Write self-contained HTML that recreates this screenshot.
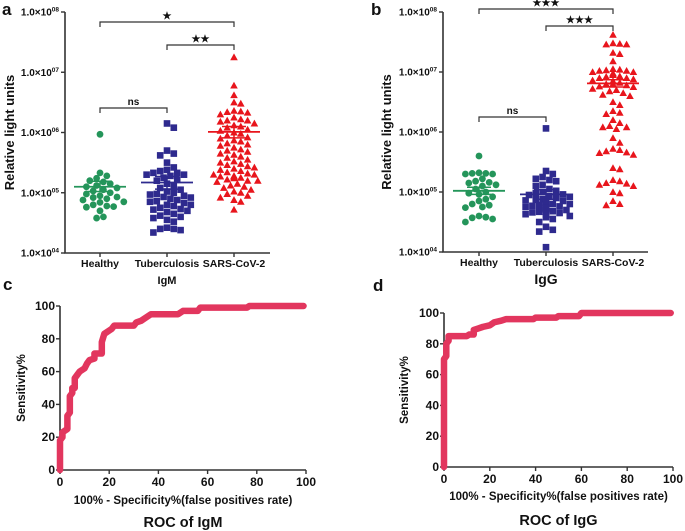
<!DOCTYPE html>
<html><head><meta charset="utf-8"><style>
html,body{margin:0;padding:0;background:#fff;}
svg{display:block;font-family:"Liberation Sans",Arial,sans-serif;}
text{font-weight:bold;fill:#111;}
</style></head><body>
<svg id="fig" width="685" height="531" viewBox="0 0 685 531"></svg>
<script>
// ---------- data ----------
const categories = ["Healthy","Tuberculosis","SARS-CoV-2"];
const yTickExps = ["04","05","06","07","08"];
// panel a (IgM) log10 RLU
const igmHealthy = [5.97,5.33,5.28,5.24,5.20,5.18,5.15,5.12,5.10,5.08,5.05,5.03,5.00,4.98,4.95,4.93,4.92,4.90,4.88,4.85,4.84,4.80,4.78,4.77,4.76,4.70,4.60,4.58];
const igmTB = [6.15,6.08,5.70,5.65,5.62,5.50,5.42,5.38,5.36,5.33,5.33,5.30,5.30,5.28,5.25,5.22,5.20,5.15,5.12,5.08,5.05,5.02,5.00,4.98,4.97,4.95,4.93,4.92,4.90,4.88,4.86,4.85,4.83,4.80,4.80,4.78,4.75,4.73,4.72,4.70,4.68,4.65,4.62,4.60,4.58,4.55,4.52,4.42,4.40,4.40,4.38,4.34];
const igmSars = [7.25,6.78,6.62,6.5,6.48,6.36,6.35,6.34,6.33,6.3,6.25,6.22,6.2,6.2,6.18,6.15,6.12,6.1,6.08,6.05,6.03,6.0,5.98,5.95,5.92,5.9,5.87,5.85,5.82,5.8,5.78,5.75,5.72,5.7,5.68,5.65,5.63,5.6,5.58,5.55,5.52,5.5,5.48,5.46,5.44,5.42,5.4,5.38,5.36,5.34,5.32,5.3,5.3,5.28,5.27,5.26,5.25,5.24,5.22,5.2,5.2,5.18,5.15,5.12,5.1,5.08,5.05,5.02,5.0,4.98,4.95,4.92,4.88,4.85,4.72];
const igmMean = [5.10,5.17,6.01];
const igmSemHi = [5.19,5.27,6.10];
const igmSemLo = [5.02,5.06,5.91];
// panel b (IgG)
const iggHealthy = [5.6,5.32,5.31,5.31,5.30,5.30,5.22,5.18,5.16,5.15,5.12,5.1,5.05,5.0,4.98,4.96,4.92,4.88,4.85,4.8,4.78,4.75,4.74,4.6,4.58,4.57,4.55,4.5];
const iggTB = [6.06,5.35,5.3,5.25,5.22,5.2,5.18,5.12,5.1,5.05,5.02,5.0,4.98,4.96,4.95,4.93,4.92,4.9,4.88,4.87,4.86,4.85,4.84,4.83,4.82,4.8,4.8,4.78,4.77,4.76,4.75,4.74,4.73,4.72,4.7,4.7,4.68,4.67,4.66,4.65,4.63,4.62,4.6,4.58,4.55,4.5,4.42,4.37,4.34,4.08];
const iggSars = [7.62,7.48,7.47,7.46,7.46,7.32,7.3,7.18,7.05,7.04,7.03,7.02,7.02,7.0,7.0,6.98,6.96,6.95,6.93,6.92,6.9,6.9,6.88,6.86,6.85,6.84,6.82,6.8,6.8,6.78,6.76,6.75,6.72,6.7,6.68,6.65,6.62,6.6,6.5,6.45,6.35,6.32,6.3,6.2,6.15,6.1,6.08,6.08,6.05,5.9,5.82,5.72,5.7,5.68,5.66,5.65,5.62,5.4,5.38,5.2,5.18,5.15,5.14,5.12,5.1,5.0,4.98,4.85,4.8,4.78];
const iggMean = [5.02,4.96,6.81];
const iggSemHi = [5.08,5.04,6.87];
const iggSemLo = [4.96,4.88,6.75];
// ROC
const rocTicks = [0,20,40,60,80,100];
const igmFpr = [0,0,1,1,3,3,4,4,5,5,6,6,7,8,10,11,12,14,14,17,17,18,20,21,22,30,31,33,35,37,48,50,56,57,76,77,99];
const igmTpr = [0,18,20,23,25,33,35,45,47,50,50,56,58,60,62,65,67,68,71,71,78,83,85,86,88,88,90,91,93,95,95,97,97,99,99,100,100];
const iggFpr = [0,0,1,1,2,2,10,11,13,13,15,17,20,22,25,27,39,40,49,50,59,60,99];
const iggTpr = [0,70,72,80,82,85,85,86,86,89,90,91,92,94,95,96,96,97,97,98,98,100,100];

// ---------- helpers ----------
const NS="http://www.w3.org/2000/svg";
const svg=document.getElementById('fig');
function mk(tag,attrs,parent){const e=document.createElementNS(NS,tag);for(const k in attrs)e.setAttribute(k,attrs[k]);(parent||svg).appendChild(e);return e;}
function txt(x,y,s,size,anchor,parent){const t=mk('text',{x:x,y:y,'font-size':size,'text-anchor':anchor||'middle'},parent);t.textContent=s;return t;}

function beeswarm(vals,yf,d,maxW){
  const pts=[];const order=vals.map((v,i)=>i).sort((a,b)=>vals[b]-vals[a]);
  const res=new Array(vals.length);
  for(const i of order){
    const y=yf(vals[i]);let best=0;
    for(let k=0;k<60;k++){
      const off=(k%2?1:-1)*Math.ceil(k/2)*d*0.5;
      if(Math.abs(off)>maxW){continue;}
      let ok=true;
      for(const p of pts){const dx=p[0]-off,dy=p[1]-y;if(dx*dx+dy*dy<d*d*0.8){ok=false;break;}}
      if(ok){best=off;break;}
    }
    pts.push([best,y]);res[i]=best;
  }
  return res;
}

function scatterPanel(o){
  const g=mk('g',{});
  
  
  const y=v=>o.y0-(v-4)*(o.y0-o.y1)/4;
  const x=i=>o.cx[i];
  const ax=mk('path',{d:`M${o.ax} ${o.y1}V${o.y0}H${o.xEnd}`,stroke:'#333',fill:'none','stroke-width':1.6},g);
  
  yTickExps.forEach((e,i)=>{
    const yy=y(4+i);
    mk('line',{x1:o.ax-4,x2:o.ax,y1:yy,y2:yy,stroke:'#333','stroke-width':1.4},g);
    const t=mk('text',{x:o.ax-6,y:yy+3.5,'font-size':10,'text-anchor':'end'},g);
    
    t.textContent='1.0×10';
    const s=mk('tspan',{'font-size':6.5,dy:-4},t);s.textContent=e;
  });
  categories.forEach((c,i)=>{
    mk('line',{x1:x(i),x2:x(i),y1:o.y0,y2:o.y0+4,stroke:'#333','stroke-width':1.4},g);
    const t=txt(x(i),o.y0+14,c,10.5,'middle',g);
    
  });
  const yt=txt(0,0,'Relative light units',13,'middle',g);
  yt.setAttribute('transform',`translate(${o.ytx},${(o.y0+o.y1)/2}) rotate(-90)`);
  
  const cols=['#24955a','#2e2a8e','#e8151c'];
  o.series.forEach((vals,si)=>{
    const offs=beeswarm(vals,y,6.8,24);
    vals.forEach((v,i)=>{
      const px=x(si)+offs[i],py=y(v);let m;
      if(si===0)m=mk('circle',{cx:px,cy:py,r:3.4,fill:cols[0]},g);
      else if(si===1)m=mk('rect',{x:px-3.3,y:py-3.3,width:6.6,height:6.6,fill:cols[1]},g);
      else m=mk('path',{d:`M${px} ${py-3.8}L${px+3.8} ${py+3}L${px-3.8} ${py+3}Z`,fill:cols[2]},g);
      
    });
    const mx=x(si);
    const ml=mk('line',{x1:mx-26,x2:mx+26,y1:y(o.mean[si]),y2:y(o.mean[si]),stroke:cols[si],'stroke-width':1.8},g);
    
    mk('path',{d:`M${mx} ${y(o.hi[si])}V${y(o.lo[si])}M${mx-12} ${y(o.hi[si])}H${mx+12}M${mx-12} ${y(o.lo[si])}H${mx+12}`,stroke:cols[si],'stroke-width':1.5,fill:'none'},g);
  });
  o.brackets.forEach(b=>{
    const bp=mk('path',{d:`M${x(b[0])} ${b[2]+5}V${b[2]}H${x(b[1])}V${b[2]+5}`,stroke:'#333',fill:'none','stroke-width':1.2},g);
    
    const t=txt((x(b[0])+x(b[1]))/2,b[2]-3,b[3],10,'middle',g);
    t.setAttribute('font-weight','normal');
    
  });
  const l=txt(o.lx,15,o.letter,17,'start');
  
  const gt=txt(x(1),o.titleY,o.title,o.titleSize,'middle');
  
}

scatterPanel({name:'igm-scatter-panel',ax:65,xEnd:270,y0:253,y1:12,cx:[100,167,234],ytx:14,lx:2,letter:'a',
  series:[igmHealthy,igmTB,igmSars],mean:igmMean,hi:igmSemHi,lo:igmSemLo,
  brackets:[[0,2,22,'★'],[1,2,45,'★★'],[0,1,108,'ns']],title:'IgM',titleY:284,titleSize:11});
scatterPanel({name:'igg-scatter-panel',ax:443,xEnd:648,y0:252,y1:12,cx:[479,546,613],ytx:391,lx:371,letter:'b',
  series:[iggHealthy,iggTB,iggSars],mean:iggMean,hi:iggSemHi,lo:iggSemLo,
  brackets:[[0,2,9,'★★★'],[1,2,26,'★★★'],[0,1,117,'ns']],title:'IgG',titleY:284,titleSize:14});

function rocPanel(o){
  const g=mk('g',{});
  
  
  const x=v=>o.x0+v*(o.x1-o.x0)/100, y=v=>o.y0-v*(o.y0-o.y1)/100;
  const ax=mk('path',{d:`M${o.x0} ${o.y1}V${o.y0}H${o.x1}`,stroke:'#333',fill:'none','stroke-width':1.6},g);
  
  rocTicks.forEach(v=>{
    mk('line',{x1:x(v),x2:x(v),y1:o.y0,y2:o.y0+4,stroke:'#333','stroke-width':1.4},g);
    mk('line',{x1:o.x0-4,x2:o.x0,y1:y(v),y2:y(v),stroke:'#333','stroke-width':1.4},g);
    const a=txt(x(v),o.y0+16,String(v),12,'middle',g);
    
    const b=txt(o.x0-5,y(v)+4,String(v),12,'end',g);
    
  });
  const d=o.fpr.map((f,i)=>(i?'L':'M')+x(f)+' '+y(o.tpr[i])).join('');
  const c=mk('path',{d:d,stroke:'#e2365e',fill:'none','stroke-width':6.5,'stroke-linejoin':'round','stroke-linecap':'round'},g);
  
  const yt=txt(0,0,'Sensitivity%',11.5,'middle',g);
  yt.setAttribute('transform',`translate(${o.ytx},${(o.y0+o.y1)/2}) rotate(-90)`);
  
  const xt=txt((o.x0+o.x1)/2,o.xtY,'100% - Specificity%(false positives rate)',11.5,'middle',g);
  
  const tt=txt((o.x0+o.x1)/2,o.ttY,o.title,14.5,'middle',g);
  
  const l=txt(o.lx,o.ly,o.letter,17,'start');
  
}
rocPanel({name:'igm-roc-panel',x0:60,x1:306,y0:470,y1:306,fpr:igmFpr,tpr:igmTpr,ytx:25,xtY:504,ttY:527,title:'ROC of IgM',letter:'c',lx:3,ly:290});
rocPanel({name:'igg-roc-panel',x0:444,x1:673,y0:467,y1:313,fpr:iggFpr,tpr:iggTpr,ytx:408,xtY:500,ttY:525,title:'ROC of IgG',letter:'d',lx:373,ly:291});
</script>
</body></html>
